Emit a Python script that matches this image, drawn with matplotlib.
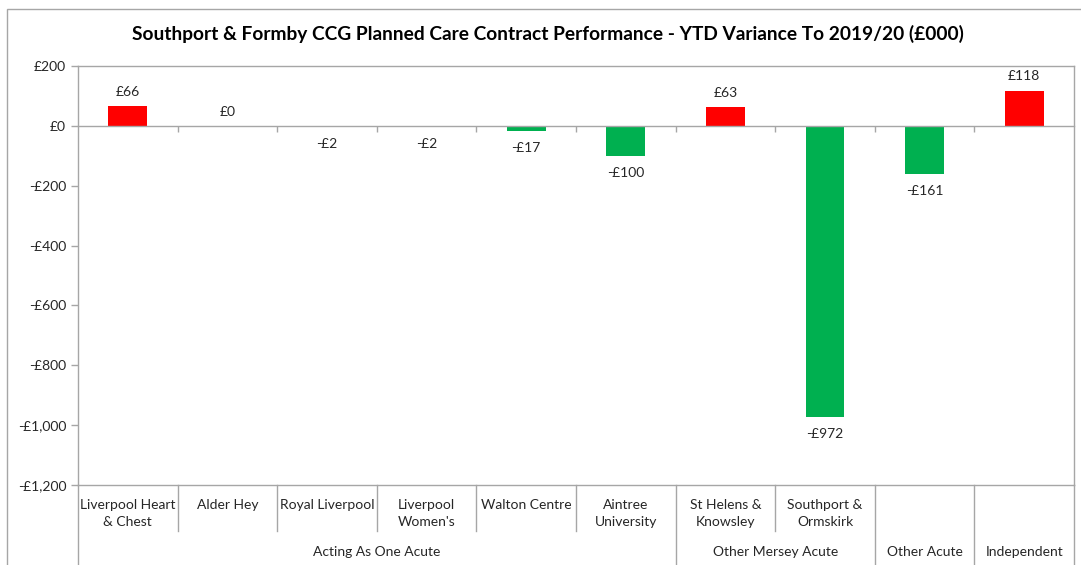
import matplotlib.pyplot as plt
from matplotlib.patches import Rectangle
from matplotlib.transforms import blended_transform_factory
import numpy as np

plt.rcParams['font.family'] = ['Lato', 'DejaVu Sans']

categories = ["Liverpool Heart\n& Chest", "Alder Hey", "Royal Liverpool", "Liverpool\nWomen's",
              "Walton Centre", "Aintree\nUniversity", "St Helens &\nKnowsley", "Southport &\nOrmskirk",
              "", ""]
values = [66, 0, -2, -2, -17, -100, 63, -972, -161, 118]
groups = ["Acting As One Acute", "Other Mersey Acute", "Other Acute", "Independent"]
group_sizes = [6, 2, 1, 1]
yticks = [200, 0, -200, -400, -600, -800, -1000, -1200]

W, H = 1081, 565
GRAY = '#A6A6A6'
TXT = '#262626'


def money(v):
    return f"£{v:,}" if v >= 0 else f"-£{abs(v):,}"


def main():
    fig = plt.figure(figsize=(W / 100, H / 100), dpi=100)
    ax = fig.add_axes([78 / W, (H - 485) / H, 996 / W, 419 / H])

    x = np.arange(len(values))
    colors = ['#FF0000' if v > 0 else '#00B050' for v in values]
    ax.bar(x, values, width=0.39, color=colors, zorder=2)

    for xi, v in zip(x, values):
        if v >= 0:
            ax.annotate(money(v), (xi, v), xytext=(0, 6), textcoords='offset points',
                        ha='center', va='bottom', fontsize=10, color=TXT)
        else:
            ax.annotate(money(v), (xi, v), xytext=(0, -8), textcoords='offset points',
                        ha='center', va='top', fontsize=10, color=TXT)

    ax.set_xlim(-0.5, len(values) - 0.5)
    ax.set_ylim(yticks[-1], yticks[0])
    ax.set_yticks(yticks)
    ax.set_yticklabels([money(v) for v in yticks], fontsize=10, color=TXT)
    ax.tick_params(axis='y', length=5, color=GRAY, width=1)

    for s in ax.spines.values():
        s.set_color(GRAY)
        s.set_linewidth(1)
    ax.spines['bottom'].set_position(('data', 0))
    ax.set_xticks(x[:-1] + 0.5)
    ax.set_xticklabels([])
    ax.tick_params(axis='x', length=4, color=GRAY, width=1, direction='out')
    # bottom frame of plot area
    ax.plot([0, 1], [0, 0], transform=ax.transAxes, color=GRAY, lw=1, clip_on=False)

    # multi-level category axis
    tr = blended_transform_factory(ax.transData, ax.transAxes)
    row1 = -46 / 419
    row_bottom = -80 / 419
    for xi, lab in zip(x, categories):
        ax.text(xi, -0.034, lab, transform=tr, ha='center', va='top', fontsize=10,
                color=TXT, linespacing=1.45)
    bounds = np.cumsum([0] + group_sizes) - 0.5
    for b in np.arange(len(values) + 1) - 0.5:
        bottom = row_bottom if b in bounds else row1
        ax.plot([b, b], [0, bottom], transform=tr, color=GRAY, lw=1, clip_on=False)
    for g, lo, hi in zip(groups, bounds[:-1], bounds[1:]):
        ax.text((lo + hi) / 2, -0.16, g, transform=tr, ha='center', va='center',
                fontsize=10, color=TXT)

    fig.suptitle("Southport & Formby CCG Planned Care Contract Performance - YTD Variance To 2019/20 (£000)",
                 x=548 / W, y=1 - 34 / H, va='center',
                 fontsize=13.8, fontweight='bold', color='black')

    fig.add_artist(Rectangle((7 / W, -0.1), 1.2, (H - 9) / H + 0.1, transform=fig.transFigure,
                             fill=False, edgecolor=GRAY, lw=1))

    fig.savefig('out.png', dpi=100)


if __name__ == "__main__":
    main()
